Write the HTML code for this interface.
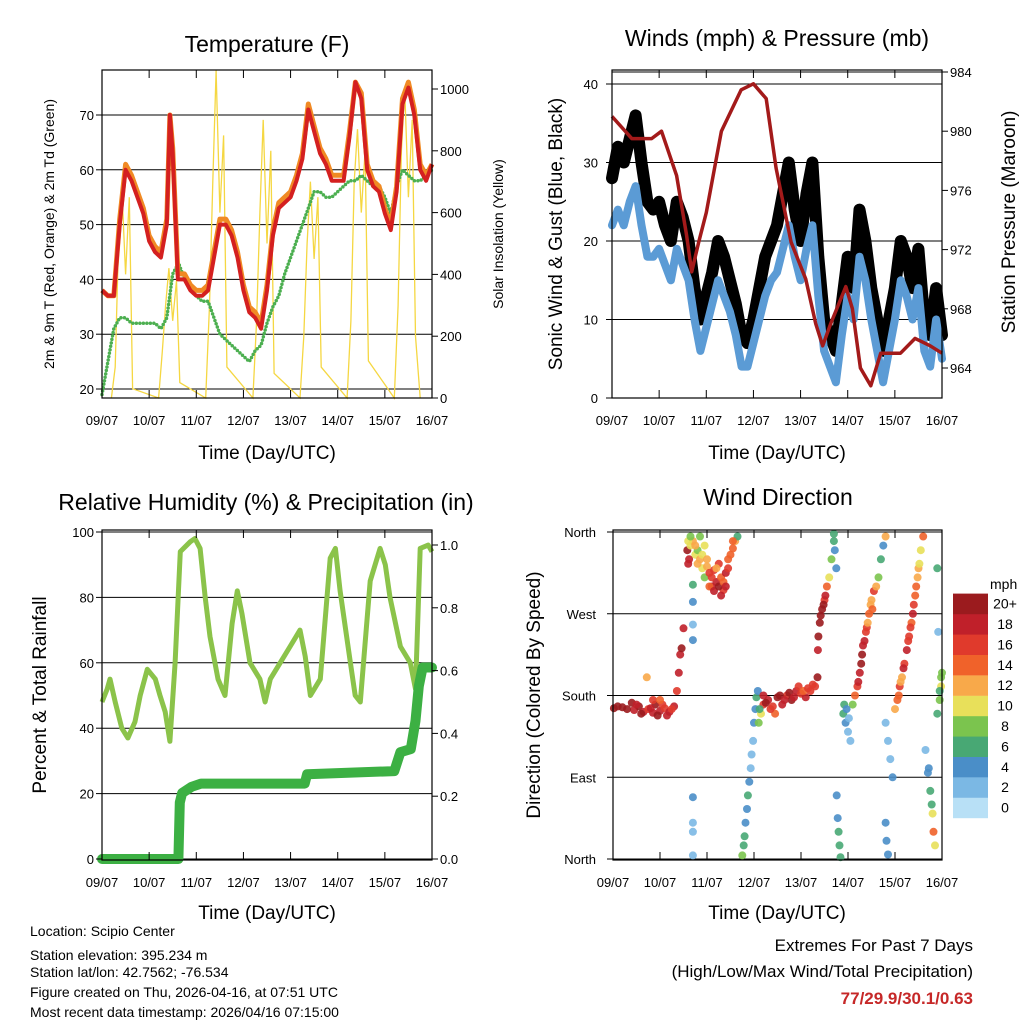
<!DOCTYPE html>
<html><head><meta charset="utf-8">
<style>
body{margin:0;background:#fff;}
svg{display:block;font-family:"Liberation Sans",sans-serif;}
</style></head>
<body>
<svg id="s" width="1024" height="1024" viewBox="0 0 1024 1024">
<g id="layer"></g>
<text x="267" y="52" font-size="23" text-anchor="middle">Temperature (F)</text>
<text x="777" y="46" font-size="23" text-anchor="middle">Winds (mph) &amp; Pressure (mb)</text>
<text x="266" y="510" font-size="23" text-anchor="middle">Relative Humidity (%) &amp; Precipitation (in)</text>
<text x="778" y="505" font-size="23" text-anchor="middle">Wind Direction</text>
<text x="267" y="459" font-size="19" text-anchor="middle">Time (Day/UTC)</text>
<text x="777" y="459" font-size="19" text-anchor="middle">Time (Day/UTC)</text>
<text x="267" y="919" font-size="19" text-anchor="middle">Time (Day/UTC)</text>
<text x="777" y="919" font-size="19" text-anchor="middle">Time (Day/UTC)</text>
<text transform="translate(54,234) rotate(-90)" font-size="14" text-anchor="middle">2m &amp; 9m T (Red, Orange) &amp; 2m Td (Green)</text>
<text transform="translate(503,234) rotate(-90)" font-size="14" text-anchor="middle">Solar Insolation (Yellow)</text>
<text transform="translate(562,234) rotate(-90)" font-size="19" text-anchor="middle">Sonic Wind &amp; Gust (Blue, Black)</text>
<text transform="translate(1015,222) rotate(-90)" font-size="19" text-anchor="middle">Station Pressure (Maroon)</text>
<text transform="translate(46,695) rotate(-90)" font-size="19" text-anchor="middle">Percent &amp; Total Rainfall</text>
<text transform="translate(540,695) rotate(-90)" font-size="19" text-anchor="middle">Direction (Colored By Speed)</text>
<g font-size="14">
<text x="30" y="936">Location: Scipio Center</text>
<text x="30" y="960">Station elevation: 395.234 m</text>
<text x="30" y="977">Station lat/lon: 42.7562; -76.534</text>
<text x="30" y="997">Figure created on Thu, 2026-04-16, at 07:51 UTC</text>
<text x="30" y="1017">Most recent data timestamp: 2026/04/16 07:15:00</text>
</g>
<g font-size="17" text-anchor="end">
<text x="973" y="951">Extremes For Past 7 Days</text>
<text x="973" y="977">(High/Low/Max Wind/Total Precipitation)</text>
<text x="973" y="1004" font-weight="bold" fill="#c62828">77/29.9/30.1/0.63</text>
</g>
</svg>
<script>
// ---- data ----
const dayLabels=["09/07","10/07","11/07","12/07","13/07","14/07","15/07","16/07"];
const tempT=[0,0.125,0.25,0.375,0.5,0.625,0.75,0.875,1,1.125,1.25,1.375,1.44,1.5,1.61,1.75,1.875,2,2.125,2.25,2.375,2.5,2.625,2.75,2.875,3,3.125,3.25,3.375,3.5,3.625,3.75,3.875,4,4.125,4.25,4.375,4.5,4.625,4.75,4.875,5,5.125,5.25,5.375,5.5,5.625,5.75,5.875,6,6.125,6.25,6.375,6.5,6.625,6.75,6.875,7];
const tempRed=[38,37,37,50,60,58,55,52,47,45,44,50,70,63,40,40,38,37,37,38,44,50,50,48,44,38,34,33,31,38,48,53,54,55,58,62,71,67,63,61,58,58,58,66,76,73,60,57,56,52,49,56,72,75,70,60,58,61];
const tempOrange=[38,37,37,51,61,59,56,53,48,46,45,51,70,64,41,41,39,38,38,39,45,51,51,49,45,39,35,34,32,39,49,54,55,56,59,63,72,68,64,62,59,59,59,67,76,74,61,58,57,53,50,57,73,76,71,61,59,61];
const dewT=[0,0.125,0.25,0.375,0.5,0.625,0.75,0.875,1,1.125,1.25,1.375,1.5,1.625,1.75,1.875,2,2.125,2.25,2.375,2.5,2.625,2.75,2.875,3,3.125,3.25,3.375,3.5,3.625,3.75,3.875,4,4.125,4.25,4.375,4.5,4.625,4.75,4.875,5,5.125,5.25,5.375,5.5,5.625,5.75,5.875,6,6.125,6.25,6.375,6.5,6.625,6.75,6.875,7];
const dewV=[19,25,31,33,33,32,32,32,32,32,31,33,41,43,40,38,37,36,36,33,30,29,28,27,26,25,27,28,32,35,37,41,44,47,50,53,56,56,55,55,56,57,58,58,59,58,57,57,55,52,57,60,59,58,58,59,60];
const solarT=[0.2,0.28,0.35,0.42,0.5,0.58,0.65,1.2,1.28,1.35,1.42,1.5,1.58,1.65,2.2,2.28,2.35,2.42,2.5,2.58,2.65,3.2,3.28,3.35,3.42,3.5,3.58,3.65,4.2,4.28,4.35,4.42,4.5,4.58,4.65,5.2,5.28,5.35,5.42,5.5,5.58,5.65,6.2,6.28,6.35,6.42,6.5,6.58,6.65,6.75];
const solarV=[0,100,500,680,400,650,30,0,150,300,420,250,380,50,0,300,700,1060,600,850,100,0,250,600,900,500,800,80,0,200,500,700,450,650,100,0,250,700,870,600,800,120,0,300,800,1000,650,900,200,0];
const windT=[0,0.125,0.25,0.375,0.5,0.625,0.75,0.875,1,1.125,1.25,1.375,1.5,1.625,1.75,1.875,2,2.125,2.25,2.375,2.5,2.625,2.75,2.875,3,3.125,3.25,3.375,3.5,3.625,3.75,3.875,4,4.125,4.25,4.375,4.5,4.625,4.75,4.875,5,5.125,5.25,5.375,5.5,5.625,5.75,5.875,6,6.125,6.25,6.375,6.5,6.625,6.75,6.875,7];
const gustV=[28,32,30,33,36,30,25,24,25,22,20,25,23,20,14,10,13,16,20,18,15,12,8,7,10,14,18,20,22,26,30,24,20,26,30,18,10,8,6,12,18,14,24,20,14,10,6,10,14,20,18,14,19,10,8,14,8];
const sustV=[22,24,22,25,27,22,18,18,19,17,15,19,17,15,10,6,9,12,15,13,11,8,4,4,7,10,13,15,16,19,22,18,15,19,22,13,6,4,2,8,13,10,18,15,10,6,2,6,10,15,13,10,14,6,4,10,5];
const presT=[0,0.42,0.84,1.05,1.37,1.58,1.69,1.84,2.0,2.32,2.74,3.0,3.27,3.48,3.8,4.11,4.32,4.47,4.64,4.96,5.1,5.27,5.49,5.7,6.12,6.43,6.75,7.0];
const presV=[981,979.5,979.5,980,977,973,970.5,972.5,974.5,980,982.8,983.2,982.2,977.5,972.5,970,967,965.5,967,969.5,968,964,962.8,965,965,966,965.5,965];
const rhT=[0,.11,.17,.28,.42,.55,.7,.81,.96,1.13,1.23,1.34,1.44,1.55,1.66,1.87,1.97,2.08,2.19,2.29,2.46,2.61,2.76,2.87,2.97,3.14,3.35,3.46,3.57,3.78,3.99,4.2,4.31,4.42,4.63,4.84,4.95,5.05,5.27,5.37,5.48,5.69,5.9,6.01,6.11,6.33,6.54,6.65,6.75,6.92,7];
const rhV=[48,52,55,48,40,37,42,50,58,55,50,45,36,60,94,97,98,95,80,68,55,50,72,82,75,60,55,48,55,60,65,70,62,50,55,92,95,82,60,50,48,85,95,90,80,65,60,52,95,96,94];
const rainT=[0,1.62,1.65,1.7,1.9,2.1,4.3,4.35,6.2,6.33,6.55,6.65,6.72,6.8,7.0];
const rainV=[0,0,0.18,0.21,0.23,0.24,0.24,0.27,0.28,0.34,0.35,0.44,0.55,0.61,0.61];
const dirT=[0.02,0.1,0.2,0.4,0.45,0.55,0.65,0.72,0.75,0.85,0.9,1.0,1.1,1.2,1.3,1.36,1.4,1.43,1.46,1.5,1.7,1.7,1.7,1.7,1.58,1.6,1.65,1.7,1.75,1.8,1.85,1.9,1.95,2.0,2.05,2.1,2.15,2.2,2.25,2.3,2.35,2.4,2.45,2.55,2.6,2.65,1.7,1.7,1.7,1.7,2.75,2.78,2.8,2.82,2.85,2.87,2.9,2.93,2.95,2.98,3.0,3.03,3.05,3.08,3.15,3.2,3.3,3.4,3.45,3.5,3.6,3.7,3.8,3.9,4.0,4.1,4.2,4.3,4.35,4.36,4.4,4.45,4.5,4.55,4.6,4.65,4.7,4.72,4.75,4.7,4.76,4.78,4.8,4.82,4.84,4.9,4.95,5.0,5.05,5.1,5.15,5.2,5.25,5.3,5.35,5.4,5.45,5.5,5.55,5.6,5.65,5.7,5.75,5.8,5.8,5.85,5.9,5.95,5.8,5.82,5.85,6.0,6.05,6.1,6.15,6.2,6.25,6.3,6.35,6.4,6.45,6.5,6.55,6.6,6.65,6.7,6.75,6.8,6.82,6.85,6.9,6.95,6.98,7.0,6.9,6.92,
0.3,0.5,0.6,0.8,0.95,1.05,1.15,1.25,0.85,1.0,
1.6,1.62,1.75,1.8,1.9,2.0,2.05,2.1,2.15,2.2,2.25,2.3,2.35,2.4,2.5,2.55,1.65,1.85,1.95,2.45,
3.2,3.25,3.35,3.55,3.65,3.75,3.85,3.95,4.05,4.15,4.25,3.1,3.12,
4.37,4.42,4.48,4.52,
5.22,5.28,5.32,5.38,5.42,5.48,5.52,
6.08,6.12,6.18,6.28,6.33,6.38,6.43,6.48,6.52,
4.92,4.97,5.02,6.72,6.78,6.95,6.98];
const dirV=[166,168,167,172,164,168,162,200,165,161,170,163,166,162,168,185,205,225,232,254,241,258,283,302,340,325,345,350,335,340,330,320,310,322,315,300,318,305,325,310,296,315,330,342,350,355,68,40,30,4,4,15,25,40,55,70,85,100,115,130,150,165,178,185,160,170,175,168,160,178,170,180,175,185,182,178,185,190,200,230,260,275,285,300,310,330,350,340,320,358,70,45,30,15,2,160,150,140,130,170,180,190,205,225,240,255,270,285,295,300,310,330,345,355,150,130,110,90,40,20,5,165,175,190,200,215,230,245,260,280,300,320,340,355,120,95,75,50,30,15,160,175,190,205,320,250,
165,170,160,166,158,170,158,165,175,175,
350,330,345,325,335,330,300,310,295,320,300,290,305,300,335,350,355,355,345,320,
180,172,165,180,175,183,178,190,185,188,192,150,165,
245,268,280,290,
195,215,235,250,260,280,275,
180,195,210,240,255,270,290,310,325,
170,165,155,100,60,185,200];
const dirSpd=[20,20,20,20,18,20,18,12,16,18,20,18,16,18,18,16,18,18,20,18,4,2,4,6,20,18,10,12,10,8,12,10,8,12,16,18,16,18,16,14,16,18,14,14,12,6,4,2,2,2,8,6,6,4,4,6,4,2,2,2,4,4,6,4,10,16,18,16,14,20,18,16,20,18,16,18,16,16,20,18,20,20,16,14,10,8,6,4,4,6,4,4,6,6,6,6,4,2,2,8,14,16,18,20,18,16,14,12,16,12,8,6,4,12,2,2,2,4,4,4,4,12,14,16,12,16,18,16,14,16,14,12,10,14,2,4,6,10,14,10,6,8,10,8,6,2,
20,18,20,18,20,16,18,16,16,14,
10,18,12,12,10,12,14,16,18,12,20,18,14,18,14,14,8,8,10,16,
18,20,16,20,18,20,18,16,14,16,16,8,6,
20,20,20,18,
18,20,18,16,12,12,14,
14,12,18,16,16,18,14,12,10,
6,4,2,4,6,6,8];
const spdColors=["#b8e0f6","#7bb8e4","#4a8ec8","#48a874","#7bc44e","#e8e05a","#f8a94a","#f0622a","#e03a2c","#c0202a","#9b1b1e"];
const spdLabels=["0","2","4","6","8","10","12","14","16","18","20+"];

// ---- helpers ----
const NS="http://www.w3.org/2000/svg";
const L=document.getElementById('layer');
function mk(tag,a,p){const e=document.createElementNS(NS,tag);for(const k in a)e.setAttribute(k,a[k]);(p||L).appendChild(e);return e;}
function lin(d0,d1,r0,r1){return v=>r0+(v-d0)*(r1-r0)/(d1-d0);}
function path(xs,ys,fx,fy){return xs.map((t,i)=>(i?'L':'M')+fx(t).toFixed(1)+','+fy(ys[i]).toFixed(1)).join('');}

function frame(x0,x1,y0,y1,name){
  const g=mk('g',{});
  
  
  const fx=lin(0,7,x0,x1);
  dayLabels.forEach((d,i)=>{
    const x=fx(i);
    const tk=mk('line',{x1:x,x2:x,y1:y1,y2:y1-8,stroke:'#000','stroke-width':1},g);
    
    
    mk('line',{x1:x,x2:x,y1:y0,y2:y0+8,stroke:'#000','stroke-width':1},g);
    const t=mk('text',{x:x,y:y1+27,'font-size':13,'text-anchor':'middle'},g);
    t.textContent=d;
    
    
  });
  return g;
}
function box(x0,x1,y0,y1){
  const r=mk('rect',{x:x0,y:y0,width:x1-x0,height:y1-y0,fill:'none',stroke:'#000','stroke-width':1.2});
  
  
}
function yTicks(vals,fy,x,side,fmt,xline){
  vals.forEach(v=>{
    const y=fy(v);
    mk('line',{x1:xline,x2:xline+(side=='l'?-6:6),y1:y,y2:y,stroke:'#000'});
    const t=mk('text',{x:x,y:y+5,'font-size':13,'text-anchor':side=='l'?'end':'start'});
    t.textContent=fmt(v);
    
    
  });
}
function grid(vals,fy,x0,x1){
  vals.forEach(v=>{const y=fy(v);const l=mk('line',{x1:x0,x2:x1,y1:y,y2:y,stroke:'#000','stroke-width':1});
  
  });
}

// ---- Panel 1: temperature ----
{
  const x0=102,x1=432,y0=70,y1=398;
  const fx=lin(0,7,x0,x1), fy=lin(20,70,389,115), fs=lin(0,1000,398,89);
  grid([20,30,40,50,60,70],fy,x0,x1);
  const sol=mk('path',{d:path(solarT,solarV,fx,fs),fill:'none',stroke:'#f5d742','stroke-width':1.3});
  
  
  const dw=mk('path',{d:path(dewT,dewV,fx,fy),fill:'none',stroke:'#4caf50','stroke-width':3.5,'stroke-linecap':'round','stroke-dasharray':'0 3.5'});
  
  
  const o=mk('path',{d:path(tempT,tempOrange,fx,fy),fill:'none',stroke:'#f08a24','stroke-width':5,'stroke-linejoin':'round'});
  
  
  const r=mk('path',{d:path(tempT,tempRed,fx,fy),fill:'none',stroke:'#d42020','stroke-width':4,'stroke-linejoin':'round'});
  
  
  box(x0,x1,y0,y1);
  frame(x0,x1,y0,y1,'temperature');
  yTicks([20,30,40,50,60,70],fy,94,'l',v=>v,x0);
  yTicks([0,200,400,600,800,1000],fs,440,'r',v=>v,x1);
}
// ---- Panel 2: winds ----
{
  const x0=612,x1=942,y0=70,y1=398;
  const fx=lin(0,7,x0,x1), fy=lin(0,40,398,84), fp=lin(964,984,368,72);
  grid([10,20,30,40],fy,x0,x1);
  grid([984],fp,x0,x1);
  const g=mk('path',{d:path(windT,gustV,fx,fy),fill:'none',stroke:'#000','stroke-width':12,'stroke-linejoin':'round','stroke-linecap':'round'});
  
  
  const b=mk('path',{d:path(windT,sustV,fx,fy),fill:'none',stroke:'#5b9bd5','stroke-width':8,'stroke-linejoin':'round','stroke-linecap':'round'});
  
  
  const p=mk('path',{d:path(presT,presV,fx,fp),fill:'none',stroke:'#a31a1a','stroke-width':3.5,'stroke-linejoin':'round'});
  
  
  box(x0,x1,y0,y1);
  frame(x0,x1,y0,y1,'winds');
  yTicks([0,10,20,30,40],fy,598,'l',v=>v,x0);
  yTicks([964,968,972,976,980,984],fp,950,'r',v=>v,x1);
}
// ---- Panel 3: humidity ----
{
  const x0=102,x1=432,y0=530,y1=860;
  const fx=lin(0,7,x0,x1), fy=lin(0,100,859,532), fr=lin(0,1,859,545);
  grid([0,20,40,60,80,100],fy,x0,x1);
  const rh=mk('path',{d:path(rhT,rhV,fx,fy),fill:'none',stroke:'#8bc34a','stroke-width':5,'stroke-linejoin':'round'});
  
  
  const rn=mk('path',{d:path(rainT,rainV,fx,fr),fill:'none',stroke:'#3cb043','stroke-width':10,'stroke-linejoin':'round','stroke-linecap':'round'});
  
  
  box(x0,x1,y0,y1);
  frame(x0,x1,y0,y1,'humidity');
  yTicks([0,20,40,60,80,100],fy,94,'l',v=>v,x0);
  yTicks([0,0.2,0.4,0.6,0.8,1.0],fr,440,'r',v=>v.toFixed(1),x1);
}
// ---- Panel 4: wind direction ----
{
  const x0=613,x1=942,y0=530,y1=860;
  const fx=lin(0,7,x0,x1), fy=lin(0,360,859,532);
  grid([0,90,180,270,360],fy,x0,x1);
  dirT.forEach((t,i)=>{
    const c=spdColors[Math.min(10,Math.round(dirSpd[i]/2))];
    const pt=mk('circle',{cx:fx(t).toFixed(1),cy:fy(dirV[i]).toFixed(1),r:4,fill:c,'fill-opacity':0.9});
    
    
  });
  box(x0,x1,y0,y1);
  frame(x0,x1,y0,y1,'direction');
  const names=["North","East","South","West","North"];
  [0,90,180,270,360].forEach((v,i)=>{
    mk('line',{x1:x0,x2:x0-6,y1:fy(v),y2:fy(v),stroke:'#000'});
    const t=mk('text',{x:596,y:fy(v)+5,'font-size':13,'text-anchor':'end'});
    t.textContent=names[i];
    
    
  });
  const lg=mk('g',{});
  
  
  const ht=mk('text',{x:990,y:589,'font-size':14},lg);ht.textContent='mph';
  for(let k=0;k<11;k++){
    const y=818-(k+1)*20.4;
    const r=mk('rect',{x:953,y:y,width:35,height:20.6,fill:spdColors[k]},lg);
    
    
    const t=mk('text',{x:1005,y:y+15,'font-size':14,'text-anchor':'middle'},lg);
    t.textContent=spdLabels[k];
  }
}
</script>
</body></html>
